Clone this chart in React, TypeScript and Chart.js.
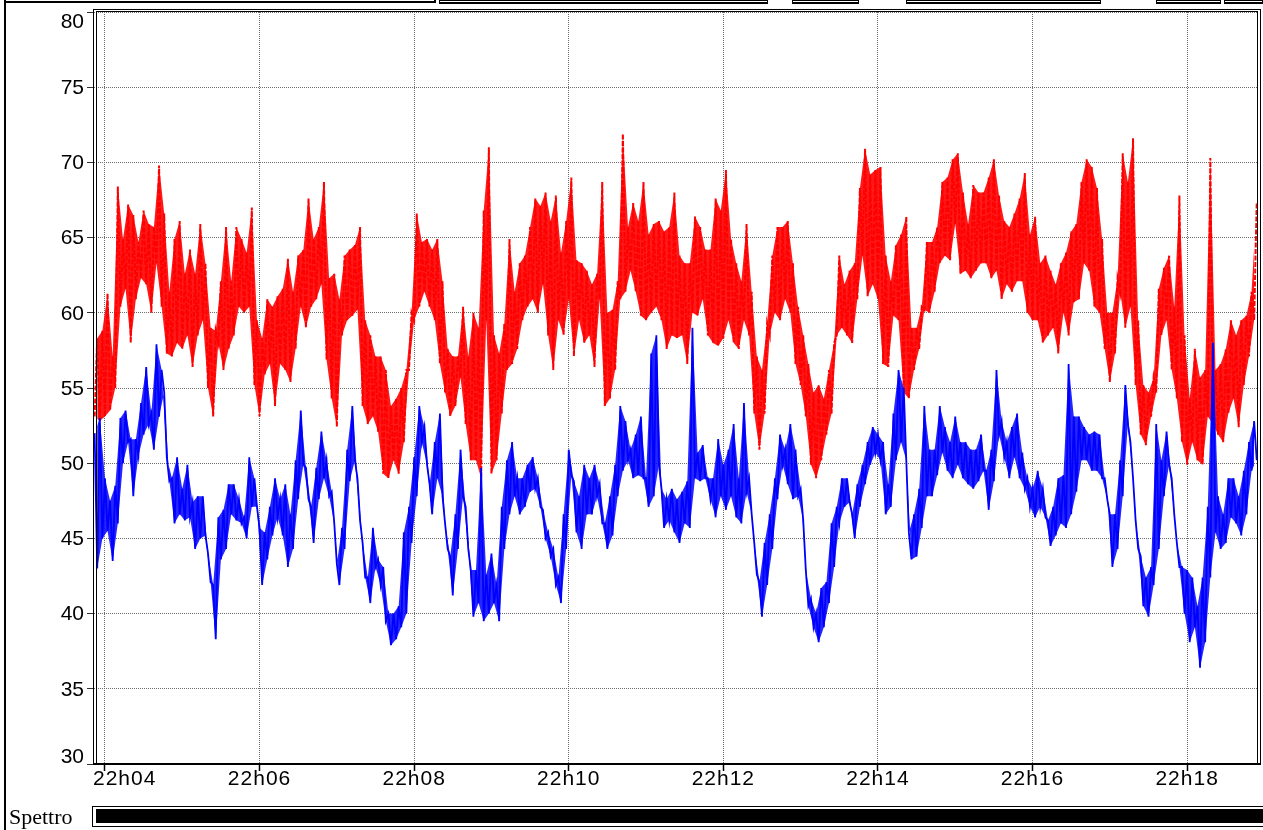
import React, { useEffect, useRef } from "react";
import { Chart, registerables } from "chart.js";

Chart.register(...registerables);

// Time base: seconds after 22h00, one min/max pair every 4 s
const SAMPLE_START_S = 232;
const SAMPLE_STEP_S = 4;
const X_MIN_S = 231.5;
const X_MAX_S = 1135;

const xTickSeconds = [240, 360, 480, 600, 720, 840, 960, 1080];
const xTickLabels = ["22h04", "22h06", "22h08", "22h10", "22h12", "22h14", "22h16", "22h18"];
const yTickValues = [30, 35, 40, 45, 50, 55, 60, 65, 70, 75, 80];

// Upper trace (dB): max and min in each 4 s window
const redHigh = [
  58.3, 58.8, 61.3, 57.1, 68.4, 64.9, 67.2, 66.5, 64.7, 66.8,
  65.9, 65.7, 69.8, 66.6, 61.4, 64.9, 66.1, 62.6, 64.2, 62.6,
  65.9, 63.3, 59.0, 58.8, 62.1, 65.7, 62.1, 65.7, 64.9, 64.0,
  67.0, 59.5, 58.3, 60.9, 60.4, 61.1, 61.6, 63.6, 61.4, 63.8,
  64.2, 67.6, 64.9, 65.7, 68.7, 62.3, 62.6, 60.9, 63.8, 64.2,
  64.5, 65.7, 59.5, 58.5, 57.1, 57.1, 56.2, 53.8, 54.3, 55.0,
  56.2, 60.0, 66.6, 64.7, 64.9, 64.2, 64.9, 62.1, 57.6, 57.1,
  57.1, 60.4, 57.1, 60.0, 59.0, 66.8, 71.0, 58.5, 57.3, 59.3,
  64.9, 61.4, 63.3, 63.8, 65.7, 67.6, 67.1, 68.0, 66.1, 67.8,
  64.0, 66.1, 69.0, 63.5, 63.3, 62.8, 61.9, 62.6, 68.7, 60.0,
  60.2, 62.1, 71.9, 65.7, 67.3, 66.1, 68.7, 65.2, 65.9, 66.1,
  65.4, 65.7, 68.0, 63.8, 63.3, 63.3, 66.4, 65.7, 64.2, 64.2,
  67.6, 66.8, 69.5, 64.9, 63.3, 62.1, 65.9, 61.4, 57.1, 56.2,
  59.3, 63.8, 65.7, 65.7, 66.1, 63.3, 60.4, 58.5, 56.6, 54.7,
  55.2, 54.3, 56.2, 58.0, 63.8, 61.9, 62.8, 63.3, 68.3, 70.9,
  69.2, 69.5, 69.7, 63.8, 62.1, 64.5, 65.2, 66.4, 59.0, 59.0,
  60.4, 64.7, 64.7, 65.7, 68.7, 69.0, 70.2, 70.6, 68.0, 65.9,
  68.5, 68.0, 68.0, 69.0, 70.2, 67.8, 66.1, 65.7, 66.6, 67.6,
  69.3, 65.2, 66.4, 63.3, 63.8, 62.8, 61.9, 63.3, 64.0, 65.4,
  65.9, 68.7, 70.2, 69.7, 68.3, 64.9, 60.0, 60.0, 62.3, 70.6,
  68.7, 71.6, 59.5, 55.2, 54.7, 55.7, 61.6, 63.0, 63.8, 60.4,
  67.8, 58.5, 54.3, 57.6, 55.7, 56.2, 70.3, 56.2, 56.6, 57.6,
  59.5, 58.5, 59.5, 59.8, 61.4, 67.3,
];
const redLow = [
  53.1, 52.8, 53.1, 53.5, 55.0, 60.4, 61.6, 58.0, 60.9, 62.3,
  61.9, 60.0, 63.3, 60.4, 57.3, 57.1, 58.0, 57.6, 58.5, 56.4,
  58.5, 59.5, 55.0, 53.1, 58.0, 56.2, 57.6, 58.5, 60.4, 60.0,
  60.4, 55.2, 53.1, 55.9, 56.6, 53.8, 56.6, 56.2, 55.4, 57.6,
  60.4, 59.0, 60.4, 60.9, 61.9, 56.9, 54.3, 52.4, 58.5, 59.5,
  59.8, 60.2, 53.8, 52.6, 53.1, 52.1, 49.3, 49.0, 50.2, 49.3,
  51.4, 56.2, 59.5, 60.4, 61.4, 60.4, 59.5, 56.6, 54.7, 53.1,
  53.8, 55.7, 52.6, 50.2, 50.2, 49.0, 59.5, 49.3, 50.2, 53.3,
  56.2, 56.6, 57.6, 59.5, 60.4, 60.9, 60.0, 61.9, 58.5, 56.2,
  59.5, 58.5, 60.9, 57.1, 59.5, 58.0, 58.5, 56.4, 60.9, 53.8,
  54.3, 56.2, 60.9, 61.4, 62.8, 61.4, 59.8, 59.5, 60.0, 60.4,
  59.5, 57.6, 58.5, 58.3, 58.5, 56.6, 60.0, 59.8, 60.9, 58.5,
  58.0, 57.8, 58.3, 59.5, 58.0, 57.6, 59.5, 58.5, 53.3, 50.9,
  53.3, 58.5, 60.0, 59.5, 60.9, 60.0, 56.6, 55.2, 53.1, 49.9,
  49.0, 50.2, 51.9, 53.3, 58.5, 59.0, 58.5, 58.0, 60.9, 63.8,
  61.1, 61.9, 60.9, 56.6, 56.4, 59.8, 59.5, 54.7, 54.3, 56.2,
  57.6, 60.2, 60.0, 61.4, 63.3, 63.8, 63.5, 65.9, 62.6, 62.8,
  62.3, 62.8, 63.3, 63.3, 62.3, 62.8, 60.9, 61.9, 61.4, 62.1,
  62.1, 60.0, 59.5, 59.5, 58.0, 58.5, 59.0, 57.3, 60.0, 58.5,
  60.7, 60.9, 63.3, 62.8, 60.4, 60.0, 57.6, 55.4, 57.3, 61.4,
  59.0, 60.4, 55.2, 51.9, 51.2, 53.1, 54.7, 58.5, 59.5, 56.2,
  54.3, 51.4, 49.9, 51.4, 50.2, 49.9, 53.1, 52.6, 51.9, 51.4,
  53.3, 54.3, 52.4, 55.2, 57.1, 59.5,
];

// Lower trace (dB): max and min in each 4 s window
const blueHigh = [
  52.0, 53.0, 49.0, 47.5, 48.5, 53.0, 53.5, 51.6, 51.6, 54.0,
  56.4, 53.3, 57.9, 56.2, 50.4, 49.0, 50.4, 48.3, 49.9, 47.4,
  47.8, 47.8, 44.0, 41.9, 46.4, 46.9, 48.6, 48.6, 47.6, 46.4,
  50.4, 49.0, 45.7, 45.4, 47.1, 49.0, 47.6, 48.6, 46.6, 50.2,
  53.5, 49.7, 47.1, 49.7, 52.1, 50.2, 48.1, 43.3, 45.7, 50.9,
  53.8, 49.0, 44.7, 42.4, 45.7, 43.6, 43.1, 40.0, 40.0, 40.5,
  45.4, 47.1, 50.4, 53.8, 52.4, 48.6, 51.4, 53.3, 46.0, 43.8,
  46.6, 50.9, 47.1, 42.9, 42.9, 49.7, 42.6, 44.0, 41.9, 47.1,
  50.2, 51.4, 49.0, 49.0, 49.9, 50.4, 49.0, 46.9, 45.4, 44.3,
  42.4, 46.6, 50.9, 48.8, 47.8, 49.9, 49.0, 49.9, 48.6, 46.0,
  47.8, 49.9, 53.8, 52.8, 50.9, 51.9, 53.1, 49.0, 57.3, 58.5,
  48.3, 47.6, 48.3, 47.6, 48.1, 48.8, 59.0, 50.7, 51.2, 49.0,
  49.0, 51.6, 49.9, 50.9, 52.6, 49.0, 54.0, 49.0, 44.7, 42.1,
  44.7, 46.6, 49.0, 51.9, 50.9, 52.6, 50.9, 48.3, 42.9, 41.0,
  40.0, 41.7, 42.1, 46.0, 47.1, 49.0, 49.0, 46.6, 48.6, 49.9,
  51.4, 52.4, 51.9, 51.4, 48.6, 53.3, 56.2, 55.0, 45.4, 46.6,
  48.3, 53.8, 50.9, 50.9, 53.8, 52.4, 51.4, 53.1, 51.4, 51.4,
  50.9, 50.9, 51.9, 49.5, 50.9, 56.2, 52.8, 51.4, 52.4, 53.3,
  50.7, 49.0, 48.3, 49.5, 48.3, 46.2, 47.1, 49.0, 49.2, 56.6,
  53.1, 53.1, 52.4, 51.9, 52.1, 51.9, 49.0, 46.6, 46.6, 50.2,
  55.2, 51.4, 46.2, 43.8, 42.4, 43.1, 52.6, 50.2, 52.1, 49.0,
  44.7, 43.1, 42.9, 42.4, 40.5, 42.4, 47.1, 58.0, 47.8, 46.6,
  49.0, 49.0, 47.8, 49.5, 51.4, 52.8,
];
const blueLow = [
  43.0, 45.0, 45.5, 43.5, 46.0, 50.0, 51.4, 47.8, 50.5, 51.9,
  52.6, 50.9, 53.1, 54.7, 48.8, 46.0, 46.6, 46.2, 46.4, 44.3,
  45.0, 45.2, 42.1, 38.3, 43.6, 44.3, 46.6, 46.2, 46.0, 45.0,
  47.1, 47.1, 41.9, 43.6, 45.2, 46.4, 45.2, 43.1, 44.3, 47.6,
  49.9, 47.6, 44.7, 47.6, 49.0, 47.8, 46.0, 41.9, 44.3, 48.8,
  50.2, 46.2, 42.4, 40.7, 43.1, 41.9, 39.5, 37.9, 38.3, 39.1,
  40.0, 44.7, 47.8, 51.4, 49.9, 46.6, 49.0, 47.8, 44.3, 41.2,
  44.3, 47.8, 44.3, 39.8, 40.7, 39.5, 40.0, 40.7, 39.5, 44.3,
  46.6, 47.8, 46.6, 47.1, 48.1, 48.3, 47.1, 45.0, 43.8, 41.9,
  40.7, 44.3, 49.2, 45.4, 44.3, 46.6, 46.6, 47.8, 46.0, 44.3,
  45.2, 47.8, 49.5, 50.2, 49.0, 49.2, 49.0, 47.1, 47.8, 49.9,
  45.7, 46.2, 45.4, 44.7, 46.0, 45.7, 49.0, 48.8, 49.0, 47.6,
  46.4, 47.8, 46.9, 47.8, 46.4, 46.0, 48.1, 46.6, 42.6, 39.8,
  41.9, 44.3, 47.6, 49.9, 48.6, 47.6, 47.8, 46.2, 40.5, 39.1,
  38.1, 39.1, 40.7, 43.1, 46.0, 47.1, 47.4, 45.0, 47.1, 48.6,
  49.9, 50.7, 50.2, 46.6, 47.1, 50.2, 51.4, 50.2, 43.6, 43.8,
  45.7, 47.8, 47.8, 49.2, 50.7, 49.5, 49.0, 49.9, 49.0, 48.6,
  48.3, 48.8, 49.5, 46.9, 48.8, 51.9, 50.4, 49.0, 50.4, 49.0,
  48.3, 47.1, 46.4, 47.1, 46.4, 44.5, 45.2, 46.0, 45.7, 46.6,
  48.1, 50.2, 50.2, 49.5, 49.5, 49.0, 47.6, 43.1, 44.3, 47.8,
  52.6, 49.0, 44.3, 40.5, 39.8, 41.9, 44.3, 47.8, 49.9, 46.6,
  43.1, 40.0, 38.1, 39.1, 36.4, 38.1, 42.4, 45.4, 44.3, 44.7,
  46.4, 46.0, 45.2, 46.6, 49.5, 50.2,
];

const SANS = '"Liberation Sans", Arial, sans-serif';
const SERIF = '"Liberation Serif", "Times New Roman", serif';

// Each window contributes its min and max as two consecutive vertices
function envelope(low: number[], high: number[], lowFirst: boolean) {
  const pts: { x: number; y: number }[] = [];
  for (let i = 0; i < low.length; i++) {
    const t = SAMPLE_START_S + i * SAMPLE_STEP_S;
    const a = lowFirst ? low[i] : high[i];
    const b = lowFirst ? high[i] : low[i];
    pts.push({ x: t, y: a }, { x: t + SAMPLE_STEP_S / 2, y: b });
  }
  return pts;
}

// One edge of the min/max band
function edge(values: number[], offset: number) {
  return values.map((v, i) => ({ x: SAMPLE_START_S + i * SAMPLE_STEP_S + offset, y: v }));
}

const framePlugin = {
  id: "frame",
  beforeDraw(chart: any) {
    const ctx = chart.ctx;
    ctx.save();
    ctx.fillStyle = "#ffffff";
    ctx.fillRect(0, 0, chart.width, chart.height);
    ctx.restore();
  },
  afterDraw(chart: any) {
    const ctx = chart.ctx;
    const area = chart.chartArea;
    const xs = chart.scales.x;
    const ys = chart.scales.y;
    ctx.save();

    // window border on the left
    ctx.fillStyle = "#000";
    ctx.fillRect(4, 0, 2, chart.height);

    // toolbar edges along the top
    ctx.fillRect(4, 1, 432, 2);
    ctx.fillRect(434, 0, 2, 3);
    const boxes = [
      [439, 768],
      [792, 859],
      [906, 1101],
      [1156, 1221],
      [1224, 1263],
    ];
    for (const [a, b] of boxes) {
      ctx.fillRect(a, 0, b - a, 1);
      ctx.fillRect(a, 2, b - a, 2);
      ctx.fillRect(a, 0, 1, 4);
      ctx.fillRect(b - 1, 0, 1, 4);
    }

    // double frame around the plot
    const L = area.left;
    const R = area.right;
    const T = area.top;
    const B = area.bottom;
    ctx.fillRect(L - 1, T - 3, 1, B - T + 3);
    ctx.fillRect(L + 2, T - 1, 1, B - T + 1);
    ctx.fillRect(L - 1, T - 3, R - L + 4, 1);
    ctx.fillRect(L + 2, T - 1, R - L - 2, 1);
    ctx.fillRect(R - 1, T - 1, 1, B - T + 1);
    ctx.fillRect(R + 2, T - 3, 1, B - T + 3);
    ctx.fillRect(L - 1, B - 1, R - L + 4, 2);

    // y labels
    ctx.font = `21px ${SANS}`;
    ctx.fillStyle = "#000";
    ctx.textAlign = "right";
    ctx.textBaseline = "middle";
    for (const v of yTickValues) {
      let py = ys.getPixelForValue(v);
      py = Math.max(T + 9, Math.min(B - 8, py));
      ctx.fillText(String(v), L - 10, py + 1);
    }

    // x labels, the first one kept inside the frame
    ctx.textAlign = "left";
    ctx.textBaseline = "alphabetic";
    (ctx as any).letterSpacing = "1px";
    xTickSeconds.forEach((s, i) => {
      const px = xs.getPixelForValue(s);
      const label = xTickLabels[i];
      const w = ctx.measureText(label).width;
      const left = Math.max(L - 1, px - w / 2);
      ctx.fillText(label, left, B + 21);
    });
    (ctx as any).letterSpacing = "0px";

    // "Spettro" strip
    ctx.font = `22px ${SERIF}`;
    ctx.fillText("Spettro", 9, 824);
    ctx.strokeStyle = "#000";
    ctx.lineWidth = 1;
    ctx.strokeRect(92.5, 806.5, 1175, 20);
    ctx.fillRect(96, 809, 1167, 14);

    ctx.restore();
  },
};

export default function App() {
  const canvasRef = useRef<HTMLCanvasElement | null>(null);

  useEffect(() => {
    const canvas = canvasRef.current;
    if (!canvas) return;
    const bandEdge = {
      borderWidth: 0,
      pointRadius: 0,
      tension: 0,
    };
    const chart = new Chart(canvas, {
      type: "line",
      data: {
        datasets: [
          {
            label: "L2",
            data: envelope(blueLow, blueHigh, false),
            borderColor: "#0000ff",
            borderWidth: 1.8,
            pointRadius: 0,
            tension: 0,
            fill: false,
            order: 0,
          },
          {
            label: "L2 max",
            data: edge(blueHigh, 0),
            ...bandEdge,
            borderColor: "rgba(0,0,255,0)",
            backgroundColor: "rgba(0,0,255,0.85)",
            fill: 2,
            order: 1,
          },
          {
            label: "L2 min",
            data: edge(blueLow, SAMPLE_STEP_S / 2),
            ...bandEdge,
            borderColor: "rgba(0,0,255,0)",
            fill: false,
            order: 2,
          },
          {
            label: "L1",
            data: envelope(redLow, redHigh, true),
            borderColor: "#ff0000",
            borderWidth: 2,
            borderDash: [5, 1.5],
            pointRadius: 0,
            tension: 0,
            fill: false,
            order: 3,
          },
          {
            label: "L1 max",
            data: edge(redHigh, SAMPLE_STEP_S / 2),
            ...bandEdge,
            borderColor: "rgba(255,0,0,0)",
            backgroundColor: "rgba(255,0,0,0.9)",
            fill: 5,
            order: 4,
          },
          {
            label: "L1 min",
            data: edge(redLow, 0),
            ...bandEdge,
            borderColor: "rgba(255,0,0,0)",
            fill: false,
            order: 5,
          },
        ],
      },
      options: {
        responsive: false,
        animation: false,
        devicePixelRatio: 1,
        layout: { padding: { top: 12, right: 5, left: 0, bottom: 0 } },
        plugins: {
          legend: { display: false },
          tooltip: { enabled: false },
          title: { display: false },
          filler: { propagate: false },
        },
        events: [],
        scales: {
          x: {
            type: "linear",
            min: X_MIN_S,
            max: X_MAX_S,
            afterBuildTicks: (scale: any) => {
              scale.ticks = xTickSeconds.map((v) => ({ value: v }));
            },
            afterFit: (scale: any) => {
              scale.height = 66;
            },
            ticks: { display: false },
            grid: {
              color: "#6e6e6e",
              lineWidth: 1,
              drawTicks: true,
              tickLength: 7,
              tickColor: "#000",
              tickWidth: 1.5,
              tickBorderDash: [],
            },
            border: { display: false, dash: [1, 1] },
          },
          y: {
            type: "linear",
            min: 30,
            max: 80,
            afterBuildTicks: (scale: any) => {
              scale.ticks = yTickValues.map((v) => ({ value: v }));
            },
            afterFit: (scale: any) => {
              scale.width = 94;
            },
            ticks: { display: false },
            grid: {
              color: "#6e6e6e",
              lineWidth: 1,
              drawTicks: true,
              tickLength: 7,
              tickColor: "#333",
              tickWidth: 1,
              tickBorderDash: [],
            },
            border: { display: false, dash: [1, 1] },
          },
        },
      },
      plugins: [framePlugin],
    } as any);
    return () => chart.destroy();
  }, []);

  return (
    <div style={{ position: "fixed", left: 0, top: 0, width: 1263, height: 830, background: "#fff" }}>
      <canvas ref={canvasRef} width={1263} height={830} style={{ display: "block" }} />
    </div>
  );
}
